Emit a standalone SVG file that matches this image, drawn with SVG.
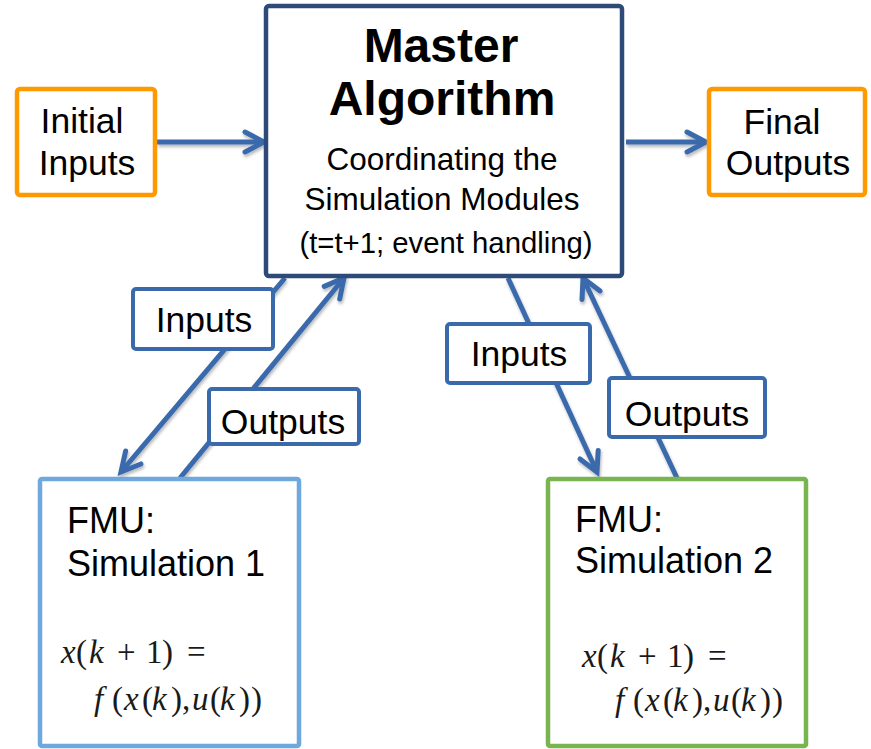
<svg xmlns="http://www.w3.org/2000/svg" width="871" height="749" viewBox="0 0 871 749">
  <style>
    .sans { font-family: "Liberation Sans", Arial, sans-serif; fill: #000; }
    .math { font-family: "Liberation Serif", "Times New Roman", serif; font-size: 33px; fill: #1a1a1a; }
    .it { font-style: italic; }
    .lbl { fill: #fff; stroke: #3A6AAC; stroke-width: 4; }
    .conn { fill: none; stroke: #3A6AAC; stroke-width: 5; marker-end: url(#chev); }
    .io { fill: #fff; stroke: #FF9900; stroke-width: 4.5; }
  </style>
  <defs>
    <marker id="chev" markerUnits="userSpaceOnUse" orient="auto" refX="0" refY="0" markerWidth="40" markerHeight="40" overflow="visible">
      <path d="M-19,-10 L0,0 L-19,10" fill="none" stroke="#3A6AAC" stroke-width="5" stroke-linecap="round" stroke-linejoin="miter"/>
    </marker>
    <filter id="shade" x="-10%" y="-10%" width="120%" height="120%">
      <feDropShadow dx="1" dy="2.5" stdDeviation="1.6" flood-color="#000" flood-opacity="0.28"/>
    </filter>
  </defs>

  <rect width="871" height="749" fill="#fff"/>

  <!-- connectors -->
  <g id="connectors" filter="url(#shade)">
    <path class="conn" d="M157,142 L264,142"/>
    <path class="conn" d="M626,142 L706,142"/>
    <path class="conn" d="M285,278 L121,472"/>
    <path class="conn" d="M180,478 L344,278"/>
    <path class="conn" d="M508,278 L597,472"/>
    <path class="conn" d="M677,478 L583,278"/>
  </g>

  <!-- master -->
  <g id="master">
    <rect x="266" y="6" width="356" height="270" rx="3" fill="#fff" stroke="#2E4A78" stroke-width="4.5"/>
    <text class="sans" x="441" y="62" text-anchor="middle" font-size="48" font-weight="bold">Master</text>
    <text class="sans" x="442" y="115" text-anchor="middle" font-size="48" font-weight="bold">Algorithm</text>
    <text class="sans" x="442" y="170" text-anchor="middle" font-size="31.5">Coordinating the</text>
    <text class="sans" x="442" y="210" text-anchor="middle" font-size="31.5">Simulation Modules</text>
    <text class="sans" x="446" y="253" text-anchor="middle" font-size="29.3">(t=t+1; event handling)</text>
  </g>

  <!-- initial inputs -->
  <g id="initial-inputs">
    <rect class="io" x="17" y="89" width="138" height="106" rx="3"/>
    <text class="sans" x="82" y="133" text-anchor="middle" font-size="35.5">Initial</text>
    <text class="sans" x="87" y="175" text-anchor="middle" font-size="35.5">Inputs</text>
  </g>

  <!-- final outputs -->
  <g id="final-outputs">
    <rect class="io" x="709" y="89" width="156" height="106" rx="3"/>
    <text class="sans" x="782" y="134" text-anchor="middle" font-size="35.5">Final</text>
    <text class="sans" x="788" y="175" text-anchor="middle" font-size="35.5">Outputs</text>
  </g>

  <!-- edge labels -->
  <g id="label-inputs-1">
    <rect class="lbl" x="133" y="289" width="140" height="60" rx="3"/>
    <text class="sans" x="204" y="332" text-anchor="middle" font-size="35.5">Inputs</text>
  </g>
  <g id="label-outputs-1">
    <rect class="lbl" x="209" y="389" width="150" height="55" rx="3"/>
    <text class="sans" x="283" y="434" text-anchor="middle" font-size="35.5">Outputs</text>
  </g>
  <g id="label-inputs-2">
    <rect class="lbl" x="447" y="324" width="143" height="59" rx="3"/>
    <text class="sans" x="519" y="366" text-anchor="middle" font-size="35.5">Inputs</text>
  </g>
  <g id="label-outputs-2">
    <rect class="lbl" x="609" y="378" width="156" height="59" rx="3"/>
    <text class="sans" x="687" y="426" text-anchor="middle" font-size="35.5">Outputs</text>
  </g>

  <!-- FMU 1 -->
  <g id="fmu-1">
    <rect x="40" y="479" width="259" height="267" rx="2" fill="#fff" stroke="#6FA8DC" stroke-width="4.5"/>
    <text class="sans" x="67" y="533" font-size="36">FMU:</text>
    <text class="sans" x="67" y="576" font-size="36">Simulation 1</text>
    <text class="math" y="663"><tspan class="it" x="61">x</tspan><tspan x="76">(</tspan><tspan class="it" x="89">k</tspan><tspan x="117">+</tspan><tspan x="146">1</tspan><tspan x="162">)</tspan><tspan x="187">=</tspan></text>
    <text class="math" y="710"><tspan class="it" x="94">f</tspan><tspan x="112">(</tspan><tspan class="it" x="124">x</tspan><tspan x="142">(</tspan><tspan class="it" x="152">k</tspan><tspan x="171">)</tspan><tspan x="182">,</tspan><tspan class="it" x="192">u</tspan><tspan x="210">(</tspan><tspan class="it" x="220">k</tspan><tspan x="239">)</tspan><tspan x="251">)</tspan></text>
  </g>

  <!-- FMU 2 -->
  <g id="fmu-2">
    <rect x="548" y="479" width="258" height="267" rx="2" fill="#fff" stroke="#78B450" stroke-width="4.5"/>
    <text class="sans" x="575" y="532" font-size="36">FMU:</text>
    <text class="sans" x="575" y="573" font-size="36">Simulation 2</text>
    <text class="math" y="667"><tspan class="it" x="582">x</tspan><tspan x="597">(</tspan><tspan class="it" x="610">k</tspan><tspan x="638">+</tspan><tspan x="667">1</tspan><tspan x="683">)</tspan><tspan x="708">=</tspan></text>
    <text class="math" y="711"><tspan class="it" x="615">f</tspan><tspan x="633">(</tspan><tspan class="it" x="645">x</tspan><tspan x="663">(</tspan><tspan class="it" x="673">k</tspan><tspan x="692">)</tspan><tspan x="703">,</tspan><tspan class="it" x="713">u</tspan><tspan x="731">(</tspan><tspan class="it" x="741">k</tspan><tspan x="760">)</tspan><tspan x="772">)</tspan></text>
  </g>
</svg>
